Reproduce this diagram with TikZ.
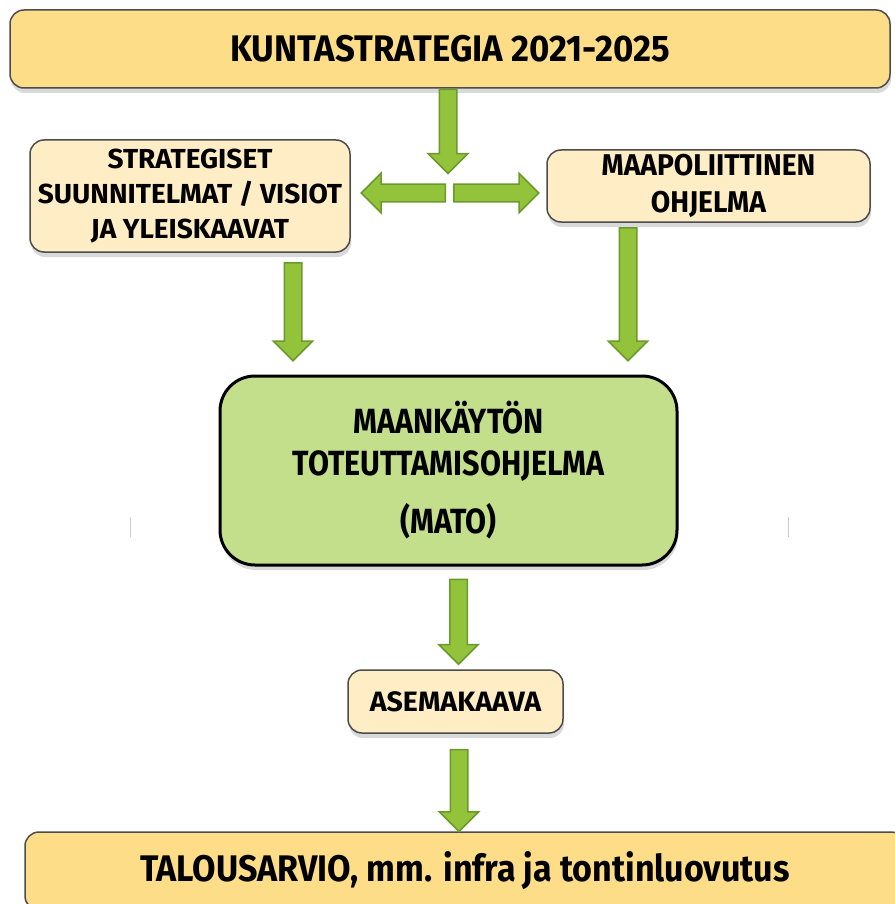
\documentclass[tikz,border=0pt]{standalone}
\usepackage{fontspec}
\setmainfont{Fira Sans}[FakeStretch=0.92]
\newfontfamily\narrowfont{Fira Sans}[FakeStretch=0.87]
\newfontfamily\mediumfont{Fira Sans}[FakeStretch=0.94]
\newfontfamily\widefont{Fira Sans}[FakeStretch=1.02]
\usetikzlibrary{shapes.arrows,shadows,positioning}
\definecolor{plangold}{HTML}{FDDD87}
\definecolor{plancream}{HTML}{FFEDC6}
\definecolor{planlime}{HTML}{C3DF8C}
\definecolor{arrowfill}{HTML}{93C23B}
\definecolor{arrowedge}{HTML}{6B9A2C}

\begin{document}
\begin{tikzpicture}[x=1pt,y=-1pt,
    box/.style={draw=black!70, line width=1.5pt, rounded corners=14pt, align=center,
      drop shadow={shadow xshift=1pt, shadow yshift=-5pt, opacity=.3}},
    mainbox/.style={box, fill=plangold, minimum width=880pt, minimum height=78pt},
    subbox/.style={box, fill=plancream},
    flow/.style={single arrow, fill=arrowfill, draw=arrowedge, line width=1.5pt,
      text height=8pt, text depth=8pt, single arrow head extend=11pt, inner sep=0pt}]
  \useasboundingbox (0,0) rectangle (894,904);

  % boxes
  \node[mainbox, font=\mediumfont\bfseries\fontsize{37}{44}\selectfont] (strategy) at (450,49)
       {KUNTASTRATEGIA 2021-2025};
  \node[subbox, minimum width=320pt, minimum height=112pt,
        font=\widefont\bfseries\fontsize{27.5}{35}\selectfont] (plans) at (190,196)
       {STRATEGISET\\SUUNNITELMAT / VISIOT\\JA YLEISKAAVAT};
  \node[subbox, minimum width=323pt, minimum height=72pt,
        font=\mediumfont\bfseries\fontsize{30}{37}\selectfont] (landpol) at (708.5,186)
       {MAAPOLIITTINEN\\OHJELMA};
  \node[box, fill=planlime, draw=black, line width=3pt, rounded corners=35pt,
        minimum width=457pt, minimum height=189pt,
        font=\narrowfont\bfseries\fontsize{35}{42}\selectfont] (mato) at (448.5,470.5)
       {MAANKÄYTÖN\\TOTEUTTAMISOHJELMA\\[16pt](MATO)};
  \node[subbox, minimum width=215pt, minimum height=63pt,
        font=\widefont\bfseries\fontsize{28}{30}\selectfont] (zoning) at (455.5,701.5) {ASEMAKAAVA};
  \node[mainbox, font=\bfseries\fontsize{37}{44}\selectfont] (budget) at (465,871)
       {TALOUSARVIO, mm. infra ja tontinluovutus};

  % arrows
  \node[flow, rotate=-90, minimum height=84pt, anchor=tail] (down0) at ([xshift=-2pt]strategy.south) {};
  \node[flow, rotate=180, minimum height=84pt, anchor=tail] (toleft) at (446,193) {};
  \node[flow, minimum height=85pt, anchor=tail] (toright) at (453,193) {};
  \node[flow, rotate=-90, minimum height=98pt, anchor=tail] (down1) at (293,262) {};
  \node[flow, rotate=-90, minimum height=133pt, anchor=tail] (down2) at (628,227) {};
  \node[flow, rotate=-90, minimum height=85pt, anchor=tail] (down3) at ([xshift=10pt,yshift=-12pt]mato.south) {};
  \node[flow, rotate=-90, minimum height=82pt, anchor=tail] (down4) at ([xshift=3.5pt,yshift=-15pt]zoning.south) {};

  % faint marks
  \draw[black!20, line width=1pt] (130,517) -- (130,537);
  \draw[black!20, line width=1pt] (788,517) -- (788,537);
\end{tikzpicture}
\end{document}
